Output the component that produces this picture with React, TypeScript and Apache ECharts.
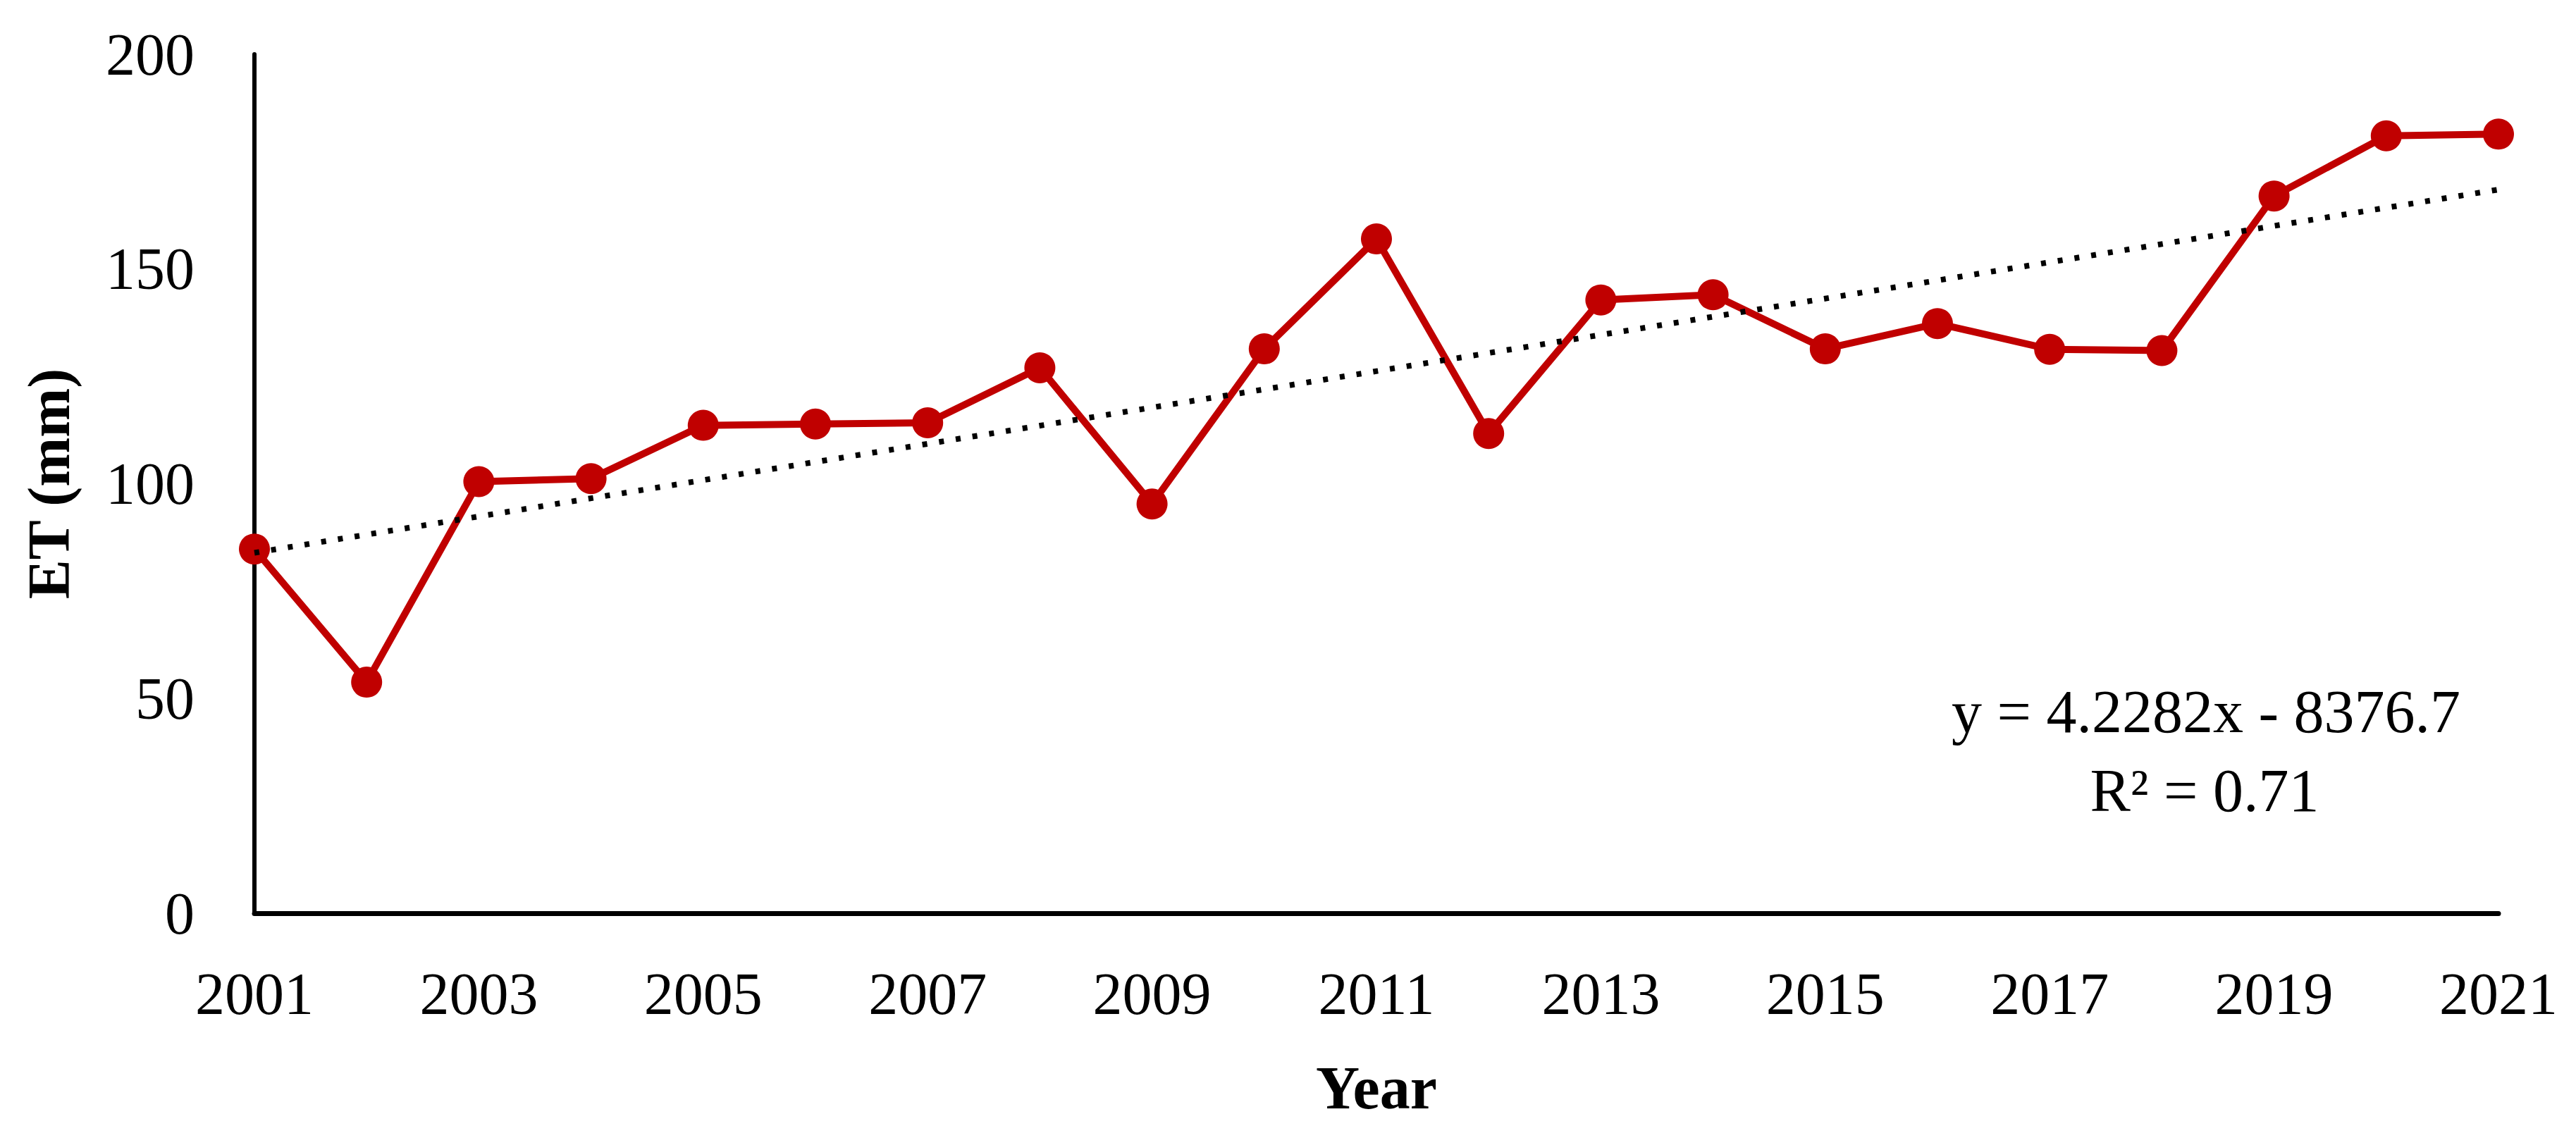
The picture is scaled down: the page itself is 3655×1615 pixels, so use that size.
import React, { useEffect, useRef } from "react";
import * as echarts from "echarts";

const years: string[] = [
  "2001", "2002", "2003", "2004", "2005", "2006", "2007", "2008", "2009", "2010",
  "2011", "2012", "2013", "2014", "2015", "2016", "2017", "2018", "2019", "2020", "2021",
];
const etValues: number[] = [
  84.8, 53.8, 100.5, 101.2, 113.6, 113.9, 114.2, 127.0, 95.3, 131.4,
  157.0, 111.7, 142.8, 144.0, 131.4, 137.3, 131.3, 131.0, 167.0, 181.0, 181.4,
];
const trendSlope = 4.2282;
const trendIntercept = -8376.7;
const equationLines: string[] = ["y = 4.2282x - 8376.7", "R² = 0.71"];
const yTicks = { min: 0, max: 200, interval: 50 };

const FONT = "'Liberation Serif', 'DejaVu Serif', serif";

export default function App() {
  const ref = useRef<HTMLDivElement>(null);
  useEffect(() => {
    if (!ref.current) return;
    const chart = echarts.init(ref.current, undefined, { renderer: "svg" });
    const first = years[0];
    const last = years[years.length - 1];
    const trendData = [
      [first, trendSlope * Number(first) + trendIntercept],
      [last, trendSlope * Number(last) + trendIntercept],
    ];
    chart.setOption({
      animation: false,
      backgroundColor: "#ffffff",
      grid: { left: 361, right: 110, top: 77, bottom: 319, containLabel: false },
      xAxis: {
        type: "category",
        data: years,
        boundaryGap: false,
        name: "Year",
        nameLocation: "middle",
        nameGap: 205,
        nameTextStyle: { fontFamily: FONT, fontSize: 86, fontWeight: "bold", color: "#000" },
        axisLine: { show: true, lineStyle: { color: "#000", width: 7 } },
        axisTick: { show: false },
        axisLabel: {
          interval: 1,
          margin: 72,
          fontFamily: FONT,
          fontSize: 84,
          color: "#000",
        },
        splitLine: { show: false },
      },
      yAxis: {
        type: "value",
        min: yTicks.min,
        max: yTicks.max,
        interval: yTicks.interval,
        name: "ET (mm)",
        nameLocation: "middle",
        nameGap: 250,
        nameTextStyle: { fontFamily: FONT, fontSize: 84, fontWeight: "bold", color: "#000" },
        axisLine: { show: true, lineStyle: { color: "#000", width: 6 } },
        axisTick: { show: false },
        axisLabel: { margin: 85, fontFamily: FONT, fontSize: 84, color: "#000" },
        splitLine: { show: false },
      },
      series: [
        {
          type: "line",
          name: "Trend",
          data: trendData,
          symbol: "none",
          lineStyle: { color: "#000", width: 8, type: [7, 17], cap: "butt" },
          z: 3,
        },
        {
          type: "line",
          name: "ET",
          data: etValues,
          symbol: "circle",
          symbolSize: 44,
          itemStyle: { color: "#C00000" },
          lineStyle: { color: "#C00000", width: 10 },
          z: 2,
        },
      ],
      graphic: [
        {
          type: "text",
          x: 3130,
          y: 1010,
          style: {
            text: equationLines[0],
            fontFamily: FONT,
            fontSize: 86,
            fill: "#000",
            align: "center",
            verticalAlign: "middle",
          },
        },
        {
          type: "text",
          x: 3128,
          y: 1122,
          style: {
            text: equationLines[1],
            fontFamily: FONT,
            fontSize: 86,
            fill: "#000",
            align: "center",
            verticalAlign: "middle",
          },
        },
      ],
    });
    return () => chart.dispose();
  }, []);
  return (
    <div
      ref={ref}
      style={{ position: "absolute", left: 0, top: 0, width: 3655, height: 1615 }}
    />
  );
}
